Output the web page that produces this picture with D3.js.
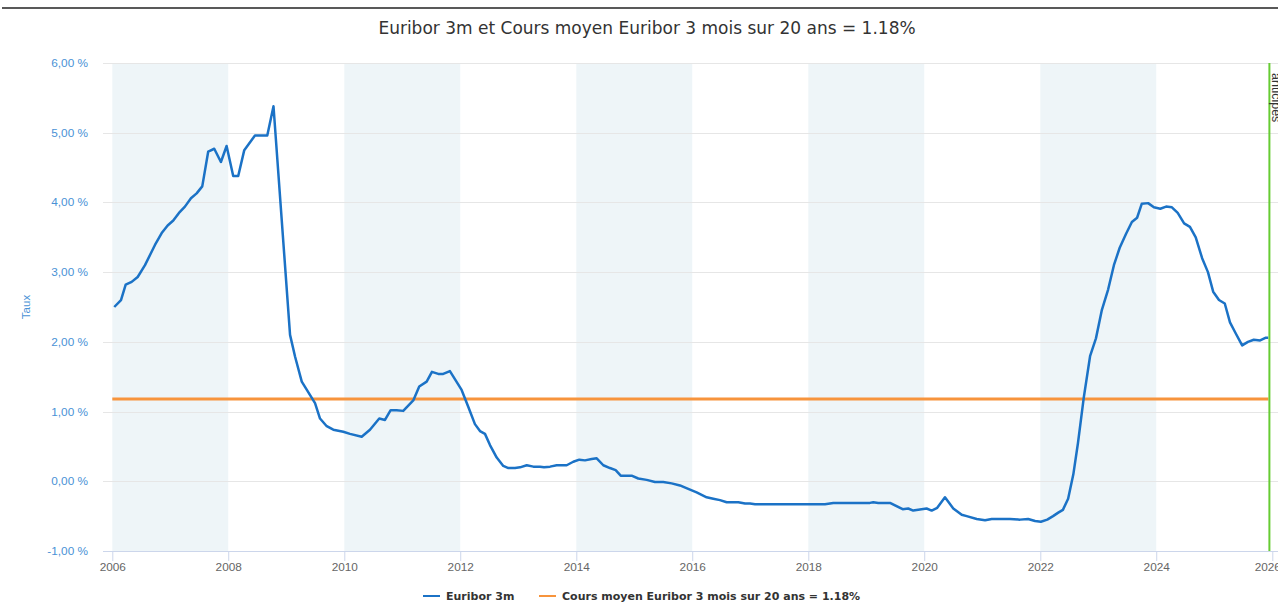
<!DOCTYPE html>
<html>
<head>
<meta charset="utf-8">
<script src="https://cdn.jsdelivr.net/npm/d3@7"></script>
<style>
  body { margin: 0; background: #fff; }
  svg { display: block; font-family: "Liberation Sans", Arial, sans-serif; }
</style>
</head>
<body>
<svg width="1278" height="604"></svg>
<script>
// dates en années décimales, valeurs en %
const dates = [
  2006.034, 2006.150, 2006.231, 2006.334, 2006.438, 2006.564, 2006.736, 2006.852, 2006.955,
  2007.052, 2007.150, 2007.253, 2007.357, 2007.455, 2007.552, 2007.655, 2007.759, 2007.874, 2007.972,
  2008.086, 2008.172, 2008.276, 2008.460, 2008.672, 2008.779,
  2009.064, 2009.150, 2009.266, 2009.495, 2009.581, 2009.697, 2009.810, 2009.983,
  2010.098, 2010.300, 2010.443, 2010.603, 2010.702, 2010.800, 2010.903,
  2011.017, 2011.190, 2011.293, 2011.421, 2011.512, 2011.621, 2011.707, 2011.822,
  2012.024, 2012.138, 2012.253, 2012.340, 2012.426, 2012.512, 2012.628, 2012.741, 2012.828, 2012.943,
  2013.029, 2013.145, 2013.259, 2013.374, 2013.443, 2013.547, 2013.662, 2013.834, 2013.948,
  2014.052, 2014.150, 2014.266, 2014.352, 2014.466, 2014.581, 2014.679, 2014.766, 2014.955,
  2015.069, 2015.214, 2015.357, 2015.500, 2015.645, 2015.788, 2015.931,
  2016.076, 2016.248, 2016.362, 2016.478, 2016.593, 2016.793, 2016.909, 2016.995,
  2017.081, 2018.288, 2018.431,
  2019.064, 2019.121, 2019.207, 2019.409, 2019.628, 2019.724, 2019.810,
  2020.041, 2020.128, 2020.224, 2020.357, 2020.500, 2020.645, 2020.731, 2020.903,
  2021.047, 2021.162, 2021.305, 2021.478, 2021.650, 2021.790, 2021.910,
  2022.010, 2022.120, 2022.220, 2022.310, 2022.390, 2022.480, 2022.570, 2022.650, 2022.750, 2022.860, 2022.960,
  2023.060, 2023.170, 2023.270, 2023.370, 2023.480, 2023.580, 2023.670, 2023.750, 2023.860, 2023.960,
  2024.070, 2024.170, 2024.270, 2024.370, 2024.480, 2024.580, 2024.680, 2024.790, 2024.890, 2024.980,
  2025.080, 2025.180, 2025.270, 2025.370, 2025.480, 2025.580, 2025.680, 2025.790, 2025.890, 2025.930
];
const euribor = [
  2.50, 2.60, 2.82, 2.86, 2.93, 3.10, 3.39, 3.56, 3.67,
  3.74, 3.85, 3.94, 4.06, 4.13, 4.23, 4.73, 4.77, 4.58, 4.81,
  4.38, 4.38, 4.75, 4.96, 4.96, 5.38,
  2.10, 1.79, 1.43, 1.12, 0.90, 0.79, 0.74, 0.71,
  0.68, 0.64, 0.74, 0.90, 0.88, 1.02, 1.02,
  1.01, 1.16, 1.36, 1.43, 1.57, 1.54, 1.54, 1.58,
  1.31, 1.07, 0.82, 0.72, 0.68, 0.52, 0.34, 0.22, 0.19, 0.19,
  0.20, 0.23, 0.21, 0.21, 0.20, 0.21, 0.23, 0.23, 0.28,
  0.31, 0.30, 0.32, 0.33, 0.23, 0.19, 0.16, 0.08, 0.08,
  0.04, 0.02, -0.01, -0.01, -0.03, -0.06, -0.11,
  -0.16, -0.23, -0.25, -0.27, -0.30, -0.30, -0.32, -0.32,
  -0.33, -0.33, -0.31,
  -0.31, -0.30, -0.31, -0.31, -0.40, -0.39, -0.42,
  -0.39, -0.42, -0.38, -0.23, -0.39, -0.48, -0.50, -0.54,
  -0.56, -0.54, -0.54, -0.54, -0.55, -0.54, -0.57,
  -0.58, -0.55, -0.50, -0.45, -0.41, -0.25, 0.10, 0.55, 1.20, 1.80, 2.05,
  2.45, 2.75, 3.10, 3.35, 3.55, 3.72, 3.78, 3.98, 3.99, 3.93,
  3.91, 3.94, 3.93, 3.85, 3.70, 3.65, 3.50, 3.20, 3.00, 2.72,
  2.60, 2.55, 2.28, 2.12, 1.95, 2.00, 2.03, 2.02, 2.06, 2.06
];
const moyenne = 1.18;
const yTicks = [-1, 0, 1, 2, 3, 4, 5, 6];
const xTicks = [2006, 2008, 2010, 2012, 2014, 2016, 2018, 2020, 2022, 2024, 2026];
const bandStarts = [2006, 2010, 2014, 2018, 2022];
const marqueur = 2025.95;
const titre = 'Euribor 3m et Cours moyen Euribor 3 mois sur 20 ans = 1.18%';
const serieNoms = ['Euribor 3m', 'Cours moyen Euribor 3 mois sur 20 ans = 1.18%'];

// année décimale -> Date
function toDate(y) {
  const yr = Math.floor(y);
  const a = new Date(yr, 0, 1), b = new Date(yr + 1, 0, 1);
  return new Date(+a + (y - yr) * (b - a));
}

const svg = d3.select('svg');
const plotLeft = 103, plotRight = 1280, plotTop = 63, plotBottom = 551;
const dejavu = '"DejaVu Sans", Verdana, sans-serif';

const x = d3.scaleTime()
  .domain([toDate(2006), toDate(2026)])
  .range([112.3, 1272.3]);
const y = d3.scaleLinear()
  .domain([-1, 6])
  .range([plotBottom, plotTop]);

// trait noir en haut (bord de page)
svg.append('line')
  .attr('x1', 2).attr('x2', 1278).attr('y1', 8).attr('y2', 8)
  .attr('stroke', '#222').attr('stroke-width', 1.5);

// bandes
svg.append('g').selectAll('rect')
  .data(bandStarts)
  .join('rect')
  .attr('x', d => x(toDate(d)))
  .attr('width', d => x(toDate(d + 2)) - x(toDate(d)))
  .attr('y', plotTop)
  .attr('height', plotBottom - plotTop)
  .attr('fill', '#eef5f8');

// grille horizontale
svg.append('g').selectAll('line')
  .data(yTicks)
  .join('line')
  .attr('x1', plotLeft).attr('x2', plotRight)
  .attr('y1', d => Math.round(y(d)) + 0.5).attr('y2', d => Math.round(y(d)) + 0.5)
  .attr('stroke', '#e6e6e6');

// axe y : libellés
const fmt = d => d3.format('.2f')(d).replace('.', ',').replace('−', '-') + ' %';
svg.append('g').selectAll('text')
  .data(yTicks)
  .join('text')
  .attr('x', 88)
  .attr('y', d => y(d) + 4)
  .attr('text-anchor', 'end')
  .attr('font-size', 11.8)
  .attr('fill', '#4a92d6')
  .text(fmt);

svg.append('text')
  .attr('transform', 'translate(30,' + (plotTop + plotBottom) / 2 + ') rotate(-90)')
  .attr('text-anchor', 'middle')
  .attr('font-size', 11.5)
  .attr('fill', '#4a92d6')
  .text('Taux');

// axe x
const xAxis = svg.append('g')
  .attr('transform', `translate(0,${plotBottom})`)
  .call(d3.axisBottom(x)
    .tickValues(xTicks.map(toDate))
    .tickFormat(d3.timeFormat('%Y'))
    .tickSize(10)
    .tickPadding(2));
xAxis.select('.domain').remove();
xAxis.append('line')
  .attr('x1', plotLeft).attr('x2', plotRight).attr('y1', 0.5).attr('y2', 0.5)
  .attr('stroke', '#ccd6eb');
xAxis.selectAll('.tick line').attr('stroke', '#ccd6eb');
xAxis.selectAll('.tick text')
  .attr('fill', '#666')
  .attr('font-size', 11.8)
  .attr('font-family', '"Liberation Sans", Arial, sans-serif')
  .attr('dx', (d, i, n) => i === n.length - 1 ? -5 : 0); // dernier libellé recadré

// moyenne
svg.append('line')
  .attr('x1', x(toDate(2006))).attr('x2', x(toDate(marqueur)) - 1)
  .attr('y1', y(moyenne)).attr('y2', y(moyenne))
  .attr('stroke', '#f7943c').attr('stroke-width', 3);

// courbe euribor
const points = dates.map((d, i) => ({ date: toDate(d), value: euribor[i] }));
svg.append('path')
  .datum(points)
  .attr('fill', 'none')
  .attr('stroke', '#1b72c6')
  .attr('stroke-width', 2.5)
  .attr('stroke-linejoin', 'round')
  .attr('d', d3.line().x(d => x(d.date)).y(d => y(d.value)));

// ligne verticale verte
const gx = x(toDate(marqueur));
svg.append('line')
  .attr('x1', gx).attr('x2', gx).attr('y1', plotTop).attr('y2', plotBottom)
  .attr('stroke', '#66cc33').attr('stroke-width', 2);
svg.append('text')
  .attr('transform', `translate(${gx + 3},73) rotate(90)`)
  .attr('font-size', 12.5)
  .attr('fill', '#333')
  .text('anticipés');

// titre
svg.append('text')
  .attr('x', 647)
  .attr('y', 34)
  .attr('text-anchor', 'middle')
  .attr('font-family', dejavu)
  .attr('font-size', 17)
  .attr('fill', '#333')
  .text(titre);

// légende
const legend = svg.append('g').attr('transform', 'translate(423,600)');
const legendX = [0, 116];
const legendColors = ['#1b72c6', '#f7943c'];
serieNoms.forEach((nom, i) => {
  const g = legend.append('g').attr('transform', `translate(${legendX[i]},0)`);
  g.append('line')
    .attr('x1', 0).attr('x2', 17).attr('y1', -4).attr('y2', -4)
    .attr('stroke', legendColors[i]).attr('stroke-width', 2);
  g.append('text')
    .attr('x', 23).attr('y', 0)
    .attr('font-family', dejavu)
    .attr('font-size', 11).attr('font-weight', 'bold')
    .attr('fill', '#333')
    .text(nom);
});
</script>
</body>
</html>
